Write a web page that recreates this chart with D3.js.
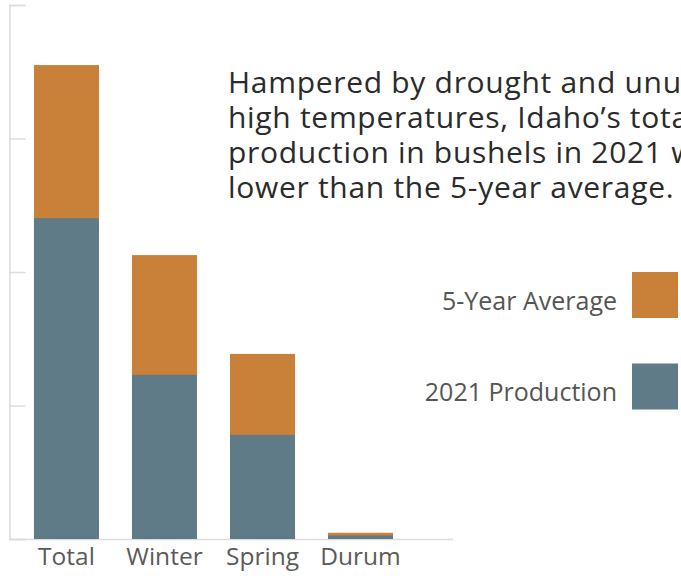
<!DOCTYPE html>
<html>
<head>
<meta charset="utf-8">
<script src="https://cdn.jsdelivr.net/npm/d3@7"></script>
<style>
  html, body { margin: 0; padding: 0; background: #fff; overflow: hidden; }
  svg { display: block; }
</style>
</head>
<body>
<svg id="chart" width="681" height="576"></svg>
<script>
// Data (million bushels)
const categories = ["Total", "Winter", "Spring", "Durum"];
const fiveYearAverage = [106.5, 63.8, 41.6, 1.4];
const production2021 = [72.1, 36.9, 23.4, 0.8];
const yTicks = [0, 30, 60, 90, 120];
const seriesNames = ["5-Year Average", "2021 Production"];
const titleLines = [
  "Hampered by drought and unusually",
  "high temperatures, Idaho\u2019s total wheat",
  "production in bushels in 2021 was",
  "lower than the 5-year average."
];

const colors = { avg: "#C98039", prod: "#5F7B87" };
const FONT = "'Open Sans', Lato, sans-serif";

const svg = d3.select("#chart");

const x = d3.scaleBand()
  .domain(categories)
  .range([17.5, 409.5])
  .paddingInner(0.3367)
  .paddingOuter(0.168);

const y = d3.scaleLinear().domain([0, 120]).range([539, 5]);

// Y axis (no labels, inward ticks)
const yAxis = d3.axisRight(y).tickValues(yTicks).tickSize(16).tickFormat("");
const gy = svg.append("g").attr("transform", "translate(9.5,0)").call(yAxis);
gy.select(".domain").attr("stroke", "#dcdcdc").attr("stroke-width", 1.5);
gy.selectAll(".tick line").attr("stroke", "#dcdcdc").attr("stroke-width", 1.5);

// X baseline
svg.append("line")
  .attr("x1", 9).attr("x2", 453)
  .attr("y1", y(0) + 0.5).attr("y2", y(0) + 0.5)
  .attr("stroke", "#dcdcdc").attr("stroke-width", 1.5);

// Bars: 5-year average behind, 2021 production in front
svg.append("g").selectAll("rect")
  .data(categories)
  .join("rect")
  .attr("x", d => x(d))
  .attr("width", x.bandwidth())
  .attr("y", (d, i) => y(fiveYearAverage[i]))
  .attr("height", (d, i) => y(0) - y(fiveYearAverage[i]))
  .attr("fill", colors.avg);

svg.append("g").selectAll("rect")
  .data(categories)
  .join("rect")
  .attr("x", d => x(d))
  .attr("width", x.bandwidth())
  .attr("y", (d, i) => y(production2021[i]))
  .attr("height", (d, i) => y(0) - y(production2021[i]))
  .attr("fill", colors.prod);

// X labels
svg.append("g").selectAll("text")
  .data(categories)
  .join("text")
  .attr("x", d => x(d) + x.bandwidth() / 2)
  .attr("y", 565)
  .attr("text-anchor", "middle")
  .attr("font-family", FONT)
  .attr("font-size", 24.5)
  .attr("fill", "#5a5a5a")
  .text(d => d);

// Title text
svg.append("g").selectAll("text")
  .data(titleLines)
  .join("text")
  .attr("x", 228)
  .attr("y", (d, i) => 93 + i * 35)
  .attr("font-family", FONT)
  .attr("font-size", 30)
  .attr("letter-spacing", 0.7)
  .attr("fill", "#2b2b2b")
  .text(d => d);

// Legend
const legendY = [295, 386.5];
const legendColors = [colors.avg, colors.prod];
const lg = svg.append("g");
lg.selectAll("rect")
  .data(seriesNames)
  .join("rect")
  .attr("x", 632)
  .attr("y", (d, i) => legendY[i] - 23)
  .attr("width", 46)
  .attr("height", 46)
  .attr("fill", (d, i) => legendColors[i]);
lg.selectAll("text")
  .data(seriesNames)
  .join("text")
  .attr("x", 617)
  .attr("y", (d, i) => legendY[i] + 14.5)
  .attr("text-anchor", "end")
  .attr("font-family", FONT)
  .attr("font-size", 25)
  .attr("fill", "#555")
  .text(d => d);
</script>
</body>
</html>
